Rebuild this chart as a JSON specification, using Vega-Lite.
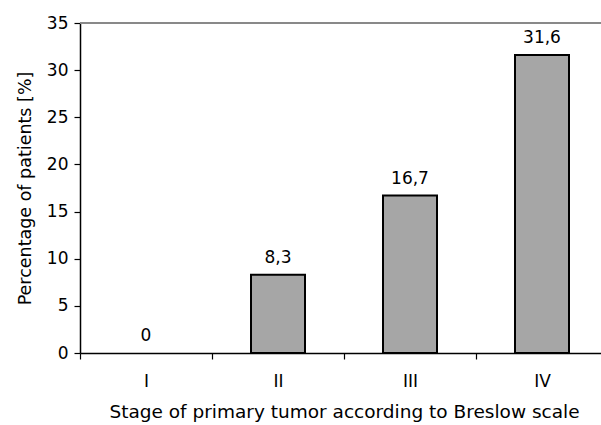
{
  "$schema": "https://vega.github.io/schema/vega-lite/v6.json",
  "autosize": "none",
  "padding": {"left": 80, "top": 23, "right": 0, "bottom": 72},
  "width": 528,
  "height": 330,
  "background": "white",
  "config": {
    "view": {"stroke": null},
    "font": "DejaVu Sans",
    "axis": {"labelFont": "DejaVu Sans", "titleFont": "DejaVu Sans", "labelColor": "black", "titleColor": "black", "domainColor": "black", "tickColor": "black", "titleFontWeight": "normal"}
  },
  "data": {"values": [
    {"stage": "I", "value": 0, "label": "0"},
    {"stage": "II", "value": 8.3, "label": "8,3"},
    {"stage": "III", "value": 16.7, "label": "16,7"},
    {"stage": "IV", "value": 31.6, "label": "31,6"}
  ]},
  "encoding": {
    "x": {"field": "stage", "type": "nominal", "sort": ["I", "II", "III", "IV"],
      "scale": {"domain": ["I", "II", "III", "IV"], "paddingInner": 0, "paddingOuter": 0},
      "axis": {"title": "Stage of primary tumor according to Breslow scale", "labelAngle": 0, "labelFontSize": 17, "titleFontSize": 18.5, "tickBand": "extent", "tickSize": 6, "labelPadding": 14, "titlePadding": 13, "domainWidth": 1.5, "tickWidth": 1.2}},
    "y": {"field": "value", "type": "quantitative",
      "scale": {"domain": [0, 35], "nice": false},
      "axis": {"title": "Percentage of patients [%]", "values": [0,5,10,15,20,25,30,35], "grid": false, "labelFontSize": 17, "titleFontSize": 17.5, "tickSize": 6, "labelPadding": 6, "titlePadding": 12, "domainWidth": 1.5, "tickWidth": 1.2}}
  },
  "layer": [
    {"mark": {"type": "rule", "color": "#888888", "strokeWidth": 1.5}, "encoding": {"y": {"datum": 35}, "x": null}},
    {"transform": [{"filter": "datum.value > 0"}], "mark": {"type": "bar", "size": 54, "fill": "#a6a6a6", "stroke": "black", "strokeWidth": 2}},
    {"mark": {"type": "text", "baseline": "alphabetic", "dy": -12, "fontSize": 17, "color": "black"}, "encoding": {"text": {"field": "label"}}}
  ]
}
